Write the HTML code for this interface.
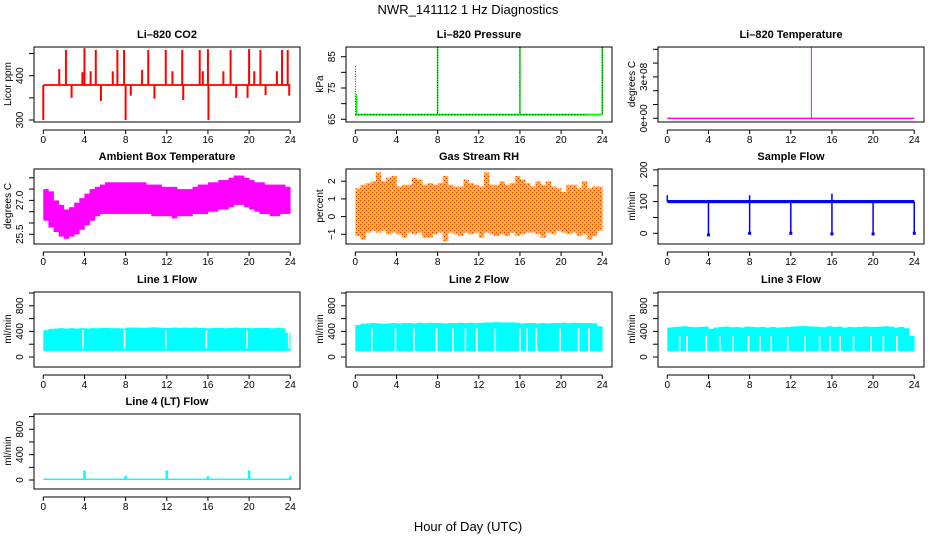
<!DOCTYPE html>
<html><head><meta charset="utf-8"><style>
html,body{margin:0;padding:0;background:#fff;}
svg{display:block;font-family:"Liberation Sans",sans-serif;}
</style></head><body>
<svg id="c" width="936" height="540" viewBox="0 0 936 540" xmlns="http://www.w3.org/2000/svg">
<text x="468" y="14" font-size="13" text-anchor="middle">NWR_141112  1 Hz Diagnostics</text>
<text x="468" y="531" font-size="13" text-anchor="middle">Hour of Day (UTC)</text>
</svg>
<script>
// ---- data ----
const hourTicks = [0,4,8,12,16,20,24];
const co2Base = [377,381];
const co2UpSpikes = [[1.55,415],[2.2,458],[3.8,408],[4.0,462],[4.6,410],[5.1,458],[6.75,410],[7.2,458],[7.85,458],[9.6,413],[10.2,458],[11.9,458],[12.55,410],[13.5,458],[15.2,458],[15.5,410],[16.0,460],[17.5,410],[18.2,458],[20.0,460],[20.5,410],[21.1,458],[22.7,410],[23.2,458],[23.75,458]];
const co2DownSpikes = [[0.0,300],[2.75,350],[5.6,343],[8.0,300],[8.5,355],[10.8,348],[13.6,345],[16.05,300],[18.75,350],[19.85,350],[21.6,356],[23.9,355]];
const presBase = [66.2,66.8];
const presGreenSpikes = [[0.1,73],[8,88],[16,88],[24,88]];
const presDarkSpikes = [[0,82],[8,88],[16,88],[24,88]];
const litSpikes = [[14,5.3e8]];
const ambHi = [27.5,27.4,27.0,26.8,26.6,26.7,26.9,27.1,27.3,27.5,27.6,27.7,27.8,27.8,27.8,27.8,27.8,27.8,27.8,27.8,27.7,27.7,27.7,27.6,27.6,27.6,27.5,27.5,27.5,27.6,27.7,27.7,27.8,27.8,27.9,27.9,28.0,28.1,28.1,28.0,27.9,27.8,27.8,27.7,27.7,27.7,27.7,27.6];
const ambLo = [26.1,25.8,25.6,25.4,25.3,25.4,25.5,25.7,25.9,26.1,26.3,26.4,26.4,26.4,26.4,26.4,26.4,26.4,26.4,26.4,26.4,26.3,26.3,26.3,26.3,26.2,26.3,26.3,26.3,26.4,26.4,26.4,26.5,26.5,26.6,26.6,26.7,26.8,26.8,26.7,26.6,26.5,26.4,26.4,26.3,26.3,26.4,26.4];
const rhHi = [1.6,1.8,1.9,2.0,2.5,2.0,2.2,2.3,1.7,1.8,1.8,2.2,2.1,1.8,1.9,1.8,1.9,2.3,1.8,1.7,1.7,2.1,1.9,1.8,1.7,2.5,1.8,1.8,2.0,1.8,1.9,2.3,2.1,1.9,1.7,2.0,1.8,2.0,1.7,1.6,1.4,1.8,1.8,1.6,2.0,1.6,1.7,1.7];
const rhLo = [-1.1,-1.3,-0.9,-0.8,-0.9,-0.8,-1.0,-0.9,-1.0,-1.2,-0.9,-1.0,-0.9,-1.2,-1.2,-1.0,-0.9,-1.4,-0.9,-1.0,-1.1,-0.9,-1.0,-0.9,-1.2,-0.9,-1.0,-1.1,-1.0,-1.1,-0.9,-1.1,-1.0,-0.9,-0.9,-1.0,-1.2,-0.9,-1.0,-0.8,-0.9,-1.0,-0.9,-1.1,-1.0,-1.3,-1.1,-0.8];
const sfBase = [95,105];
const sfDrops = [[4,-5],[8,0],[12,0],[16,-2],[20,-2],[24,0]];
const sfUps = [[0,120],[8,120],[16,125]];
const l1Hi = [420,440,445,450,445,450,445,450,445,450,450,455,455,450,450,445,460,460,460,455,460,465,460,455,455,460,455,460,455,460,455,450,450,455,455,450,455,460,455,455,450,455,455,455,450,455,450,380];
const l1Lo = 95;
const l1Gaps = [3.85,7.9,11.9,15.85,19.8,23.85];
const l2Hi = [500,520,525,530,525,520,525,530,525,530,530,525,535,530,535,530,530,525,530,530,535,530,535,530,535,540,540,545,540,540,540,535,525,530,530,525,530,525,530,530,535,530,535,530,530,530,525,480];
const l2Lo = 90;
const l2Gaps = [1.6,3.9,5.7,7.9,9.5,10.7,11.8,13.6,16.0,16.7,17.6,19.9,21.7,22.7];
const l3Hi = [460,470,475,480,470,465,470,475,440,460,470,475,465,470,460,475,470,465,470,460,470,460,465,470,475,480,485,480,475,470,465,480,470,475,460,470,465,470,475,470,470,475,480,475,460,470,450,330];
const l3Lo = 90;
const l3Gaps = [1.2,1.9,3.8,5.1,6.4,7.9,9.0,10.1,11.7,13.4,14.8,15.8,16.8,18.1,19.8,21.0,22.3];
const l4Base = [0,22];
const l4Spikes = [[4,150],[8,65],[12,150],[16,60],[20,150],[24,60]];

// ---- layout ----
const NS = "http://www.w3.org/2000/svg";
const svg = document.getElementById('c');
function el(tag, attrs, parent){ const e=document.createElementNS(NS,tag); for(const k in attrs) e.setAttribute(k,attrs[k]); (parent||svg).appendChild(e); return e; }

function makePanel(cfg){
  const g = el('g',{});
  
  
  const off = cfg.off, top = cfg.top, bot = top+75;
  const X = h => 43.3 + off + h*10.29;
  const Y = v => cfg.basePx - (v - cfg.v0)*cfg.slope;
  const clip = 'clip-'+cfg.name;
  const cp = el('clipPath',{id:clip},g); el('rect',{x:34+off,y:top,width:266,height:75},cp);
  const dg = el('g',{'clip-path':'url(#'+clip+')'},g);
  
  
  cfg.draw(dg, X, Y);
  const box = el('rect',{x:34+off,y:top,width:266,height:75,fill:'none',stroke:'#000','stroke-width':1},g);
  
  
  const t = el('text',{x:167+off,y:top-9,'font-size':11,'font-weight':'bold','text-anchor':'middle'},g);
  t.textContent = cfg.title;
  
  
  const ax = el('g',{},g);
  
  
  el('line',{x1:X(0),x2:X(24),y1:bot+8,y2:bot+8,stroke:'#000'},ax);
  hourTicks.forEach(h=>{
    el('line',{x1:X(h),x2:X(h),y1:bot+8,y2:bot+12,stroke:'#000'},ax);
    const tl = el('text',{x:X(h),y:bot+21,'font-size':10,'text-anchor':'middle'},ax);
    tl.textContent = h;
    
    
  });
  const ay = el('g',{},g);
  
  
  const yt = cfg.yticks;
  el('line',{x1:34+off,x2:34+off,y1:Y(yt[0]),y2:Y(yt[yt.length-1]),stroke:'#000'},ay);
  yt.forEach((v,i)=>{
    el('line',{x1:29+off,x2:34+off,y1:Y(v),y2:Y(v),stroke:'#000'},ay);
    const lab = cfg.ylabels[i];
    if(lab){
      const tl = el('text',{x:0,y:0,'font-size':10,'text-anchor':'middle',transform:`translate(${23+off},${Y(v)}) rotate(-90)`},ay);
      tl.textContent = lab;
      
      
    }
  });
  const yl = el('text',{x:0,y:0,'font-size':10,'text-anchor':'middle',transform:`translate(${11+off},${top+37}) rotate(-90)`},g);
  yl.textContent = cfg.ylab;
  
  
}
function vline(g,x,y1,y2,col,w,dash){ const a={x1:x,x2:x,y1:y1,y2:y2,stroke:col,'stroke-width':w||1}; if(dash) a['stroke-dasharray']=dash; return el('line',a,g); }
function bandBins(g,X,Y,lo,hi,col){
  hi.forEach((h,i)=>{
    const l = Array.isArray(lo)?lo[i]:lo;
    const x1=X(i*0.5), x2=X((i+1)*0.5);
    const r = el('rect',{x:x1,y:Y(h),width:x2-x1+0.3,height:Y(l)-Y(h),fill:col},g);
    
    
  });
}
function gaps(g,X,Y,list,lo,topV){
  list.forEach(h=>{ vline(g,X(h),Y(topV),Y(lo)+1,'#fff',1.6); });
}

const R1=47,R2=169,R3=292,R4=414;
makePanel({name:'co2-panel',title:'Li\u2013820 CO2',off:0,top:R1,basePx:120,v0:300,slope:0.443,yticks:[300,350,400,450],ylabels:['300','','400',''],ylab:'Licor ppm',
  draw:(g,X,Y)=>{
    el('rect',{x:X(0),y:Y(co2Base[1]),width:X(24)-X(0),height:Y(co2Base[0])-Y(co2Base[1]),fill:'#f00'},g);
    co2UpSpikes.forEach(s=>vline(g,X(s[0]),Y(s[1]),Y(379),'#f00',2));
    co2DownSpikes.forEach(s=>vline(g,X(s[0]),Y(379),Y(s[1]),'#f00',2));
  }});
makePanel({name:'pressure-panel',title:'Li\u2013820 Pressure',off:312,top:R1,basePx:119.3,v0:65,slope:3.13,yticks:[65,70,75,80,85],ylabels:['65','','75','','85'],ylab:'kPa',
  draw:(g,X,Y)=>{
    el('rect',{x:X(0),y:Y(presBase[1]),width:X(24)-X(0),height:Y(presBase[0])-Y(presBase[1]),fill:'#0f0'},g);
    el('line',{x1:X(0),x2:X(22.5),y1:Y(66.4),y2:Y(66.4),stroke:'#000','stroke-dasharray':'1,2'},g);
    presGreenSpikes.forEach(s=>vline(g,X(s[0]),Y(s[1]),Y(66.5),'#0f0',1.5));
    presDarkSpikes.forEach(s=>vline(g,X(s[0]),Y(s[1]),Y(66.5),'#000',0.8,'1,1.5'));
  }});
makePanel({name:'licor-temp-panel',title:'Li\u2013820 Temperature',off:624,top:R1,basePx:118.3,v0:0,slope:1.38e-7,yticks:[0,1e8,2e8,3e8,4e8,5e8],ylabels:['0e+00','','','3e+08','',''],ylab:'degrees C',
  draw:(g,X,Y)=>{
    el('line',{x1:X(0),x2:X(24),y1:Y(0),y2:Y(0),stroke:'#f0f','stroke-width':1.3},g);
    litSpikes.forEach(s=>vline(g,X(s[0]),Y(s[1]),Y(0),'#f0f',1));
  }});
makePanel({name:'ambient-temp-panel',title:'Ambient Box Temperature',off:0,top:R2,basePx:234.3,v0:25.5,slope:22.6,yticks:[25.5,26,26.5,27,27.5,28],ylabels:['25.5','','','27.0','',''],ylab:'degrees C',
  draw:(g,X,Y)=>{ bandBins(g,X,Y,ambLo,ambHi,'#f0f'); }});
makePanel({name:'rh-panel',title:'Gas Stream RH',off:312,top:R2,basePx:234.3,v0:-1,slope:17.7,yticks:[-1,0,1,2],ylabels:['\u22121','0','1','2'],ylab:'percent',
  draw:(g,X,Y)=>{
    const pat = el('pattern',{id:'rhpat',width:4,height:4,patternUnits:'userSpaceOnUse'},g);
    el('rect',{width:4,height:4,fill:'#ffc400'},pat);
    el('rect',{x:0,y:0,width:1,height:1,fill:'#f22'},pat);
    el('rect',{x:2,y:2,width:1,height:1,fill:'#f22'},pat);
    bandBins(g,X,Y,rhLo,rhHi,'url(#rhpat)');
  }});
makePanel({name:'sample-flow-panel',title:'Sample Flow',off:624,top:R2,basePx:233.3,v0:0,slope:0.317,yticks:[0,50,100,150,200],ylabels:['0','','100','','200'],ylab:'ml/min',
  draw:(g,X,Y)=>{
    el('rect',{x:X(0),y:Y(sfBase[1]),width:X(24)-X(0),height:Y(sfBase[0])-Y(sfBase[1]),fill:'#00f'},g);
    sfDrops.forEach(s=>{ vline(g,X(s[0]),Y(100),Y(s[1]),'#00f',1.5); el('rect',{x:X(s[0])-1.5,y:Y(s[1])-1.5,width:3,height:3,fill:'#00f'},g); });
    sfUps.forEach(s=>vline(g,X(s[0]),Y(s[1]),Y(100),'#00f',1.5));
  }});
const flowTicks=[0,200,400,600,800,1000], flowLabs=['0','','400','','800',''];
makePanel({name:'line1-flow-panel',title:'Line 1 Flow',off:0,top:R3,basePx:357,v0:0,slope:0.064,yticks:flowTicks,ylabels:flowLabs,ylab:'ml/min',
  draw:(g,X,Y)=>{ bandBins(g,X,Y,l1Lo,l1Hi,'#0ff'); gaps(g,X,Y,l1Gaps,150,420); }});
makePanel({name:'line2-flow-panel',title:'Line 2 Flow',off:312,top:R3,basePx:357,v0:0,slope:0.064,yticks:flowTicks,ylabels:flowLabs,ylab:'ml/min',
  draw:(g,X,Y)=>{ bandBins(g,X,Y,l2Lo,l2Hi,'#0ff'); gaps(g,X,Y,l2Gaps,100,450); }});
makePanel({name:'line3-flow-panel',title:'Line 3 Flow',off:624,top:R3,basePx:357,v0:0,slope:0.064,yticks:flowTicks,ylabels:flowLabs,ylab:'ml/min',
  draw:(g,X,Y)=>{ bandBins(g,X,Y,l3Lo,l3Hi,'#0ff'); gaps(g,X,Y,l3Gaps,100,330); }});
makePanel({name:'line4-flow-panel',title:'Line 4 (LT) Flow',off:0,top:R4,basePx:480,v0:0,slope:0.0634,yticks:flowTicks,ylabels:flowLabs,ylab:'ml/min',
  draw:(g,X,Y)=>{
    el('rect',{x:X(0),y:Y(l4Base[1]),width:X(24)-X(0),height:Y(l4Base[0])-Y(l4Base[1]),fill:'#0ff'},g);
    l4Spikes.forEach(s=>vline(g,X(s[0]),Y(s[1]),Y(0),'#0ff',2.5));
  }});
</script>
</body></html>
